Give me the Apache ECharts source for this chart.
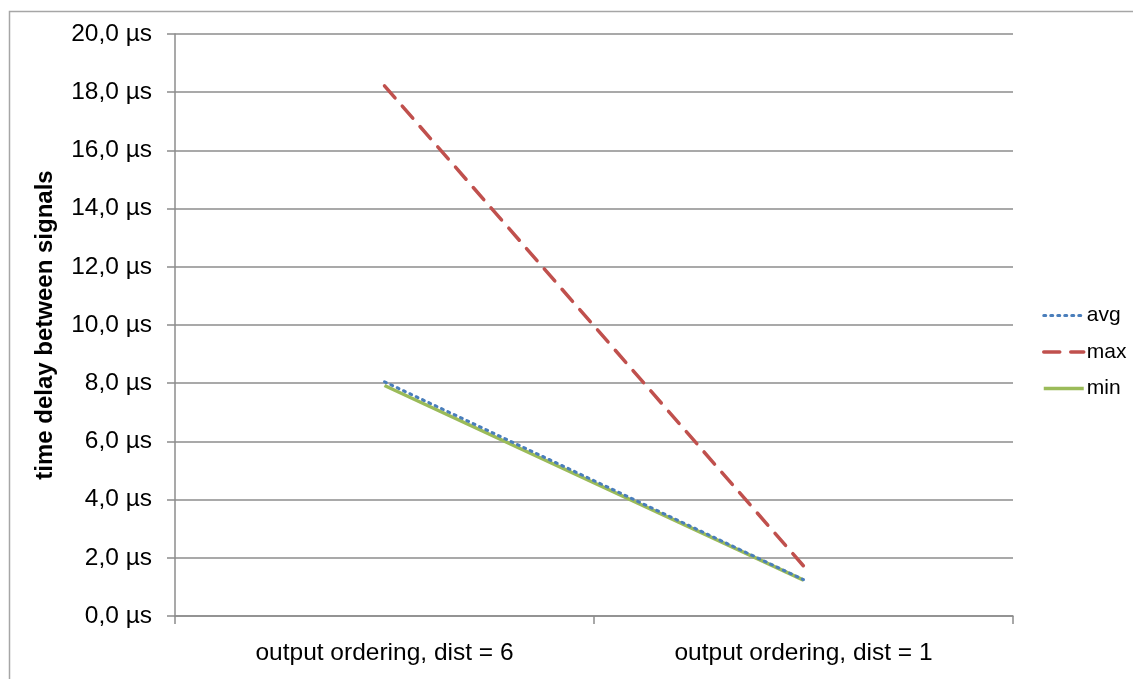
<!DOCTYPE html>
<html>
<head>
<meta charset="utf-8">
<script src="https://cdn.jsdelivr.net/npm/echarts@6/dist/echarts.min.js"></script>
<style>
  html, body { margin: 0; padding: 0; background: #fff; }
  #chart { width: 1133px; height: 679px; }
</style>
</head>
<body>
<div id="chart"></div>
<script>
// Measurement categories and per-series delays (µs)
const categories = ['output ordering, dist = 6', 'output ordering, dist = 1'];
const avgValues = [8.05, 1.25];
const maxValues = [18.22, 1.72];
const minValues = [7.92, 1.23];
const yTicks = { min: 0, max: 20, interval: 2 };

const fmt = v => v.toFixed(1).replace('.', ',') + ' µs';
const font = 'Liberation Sans, Arial, sans-serif';

const styles = {
  avg: { color: '#4a7ebb', width: 3, type: [2, 5], cap: 'round' },
  max: { color: '#c0504d', width: 3.5, type: [16, 11], cap: 'round' },
  min: { color: '#9bbb59', width: 3.5, type: 'solid', cap: 'butt' }
};

const chart = echarts.init(document.getElementById('chart'), null, { renderer: 'canvas' });
chart.setOption({
  backgroundColor: '#fff',
  animation: false,
  graphic: [{
    type: 'rect',
    left: 7, top: 9,
    shape: { width: 1200, height: 720 },
    style: { fill: 'none', stroke: '#a6a6a6', lineWidth: 1.5 },
    silent: true, z: -1
  }],
  grid: { left: 175, right: 120, top: 34, bottom: 63 },
  legend: {
    orient: 'vertical',
    left: 1037, top: 300,
    itemWidth: 40, itemHeight: 22, itemGap: 15.5,
    itemStyle: { opacity: 0 },
    textStyle: { fontFamily: font, fontSize: 21, color: '#000', padding: [0, 0, 0, -2] },
    data: ['avg', 'max', 'min'].map(n => ({ name: n, lineStyle: styles[n] }))
  },
  xAxis: {
    type: 'category',
    data: categories,
    boundaryGap: true,
    axisLine: { lineStyle: { color: '#8c8c8c', width: 1.5 } },
    axisTick: { show: true, length: 8, alignWithLabel: false, lineStyle: { color: '#8c8c8c', width: 1.5 } },
    axisLabel: { fontFamily: font, fontSize: 24.5, color: '#000', margin: 25 }
  },
  yAxis: {
    type: 'value',
    min: yTicks.min, max: yTicks.max, interval: yTicks.interval,
    name: 'time delay between signals',
    nameLocation: 'middle',
    nameGap: 118,
    nameRotate: 90,
    nameTextStyle: { fontFamily: font, fontSize: 24, fontWeight: 'bold', color: '#000' },
    axisLine: { show: true, lineStyle: { color: '#8c8c8c', width: 1.5 } },
    axisTick: { show: true, length: 8, lineStyle: { color: '#8c8c8c', width: 1.5 } },
    axisLabel: { fontFamily: font, fontSize: 24.5, color: '#000', margin: 23, formatter: fmt },
    splitLine: { show: true, lineStyle: { color: '#8c8c8c', width: 1.5 } }
  },
  series: [
    {
      name: 'avg', type: 'line', data: avgValues, symbol: 'none', z: 3,
      itemStyle: { color: styles.avg.color }, lineStyle: styles.avg
    },
    {
      name: 'max', type: 'line', data: maxValues, symbol: 'none', z: 4,
      itemStyle: { color: styles.max.color }, lineStyle: styles.max
    },
    {
      name: 'min', type: 'line', data: minValues, symbol: 'none', z: 2,
      itemStyle: { color: styles.min.color }, lineStyle: styles.min
    }
  ]
});
</script>
</body>
</html>
